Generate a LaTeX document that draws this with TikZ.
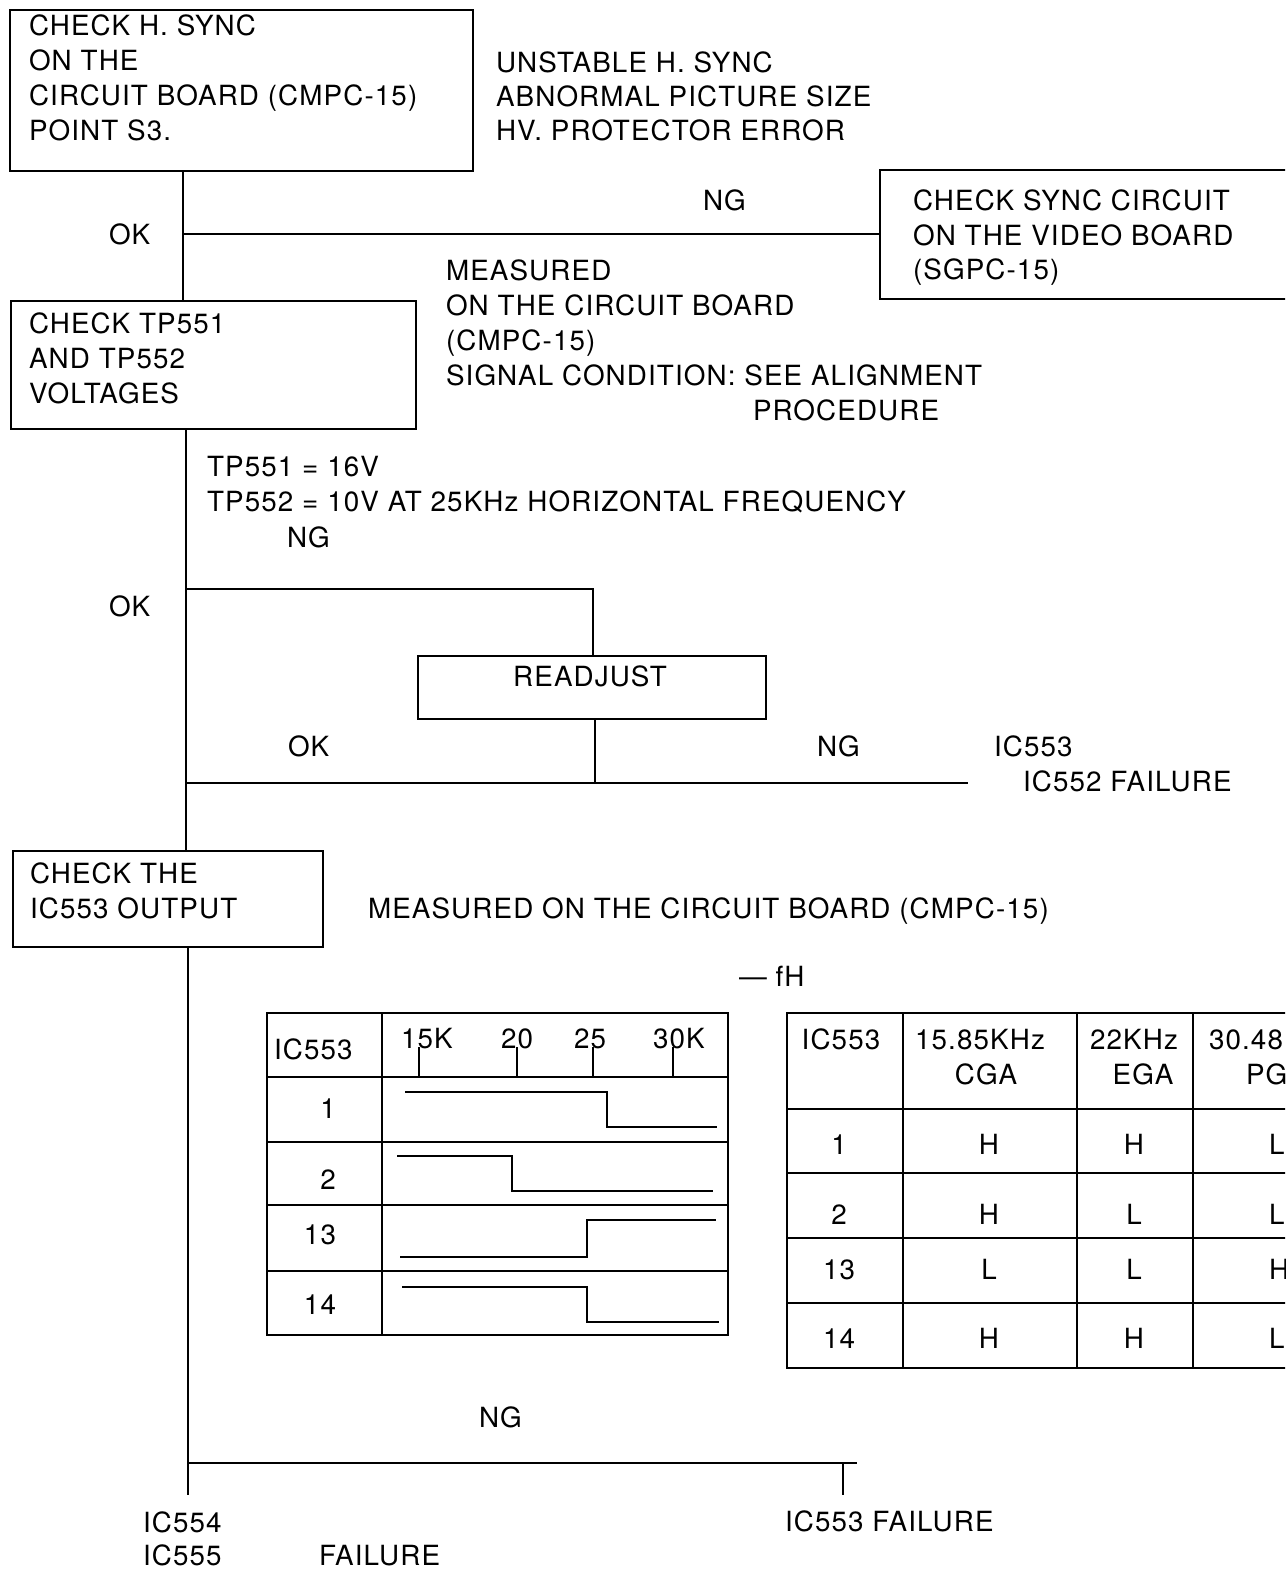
\documentclass[tikz,border=0pt]{standalone}
\usepackage{fontspec}
\setmainfont[LetterSpace=4]{TeX Gyre Heros}
\begin{document}
\begin{tikzpicture}[x=0.5pt,y=-0.5pt,line width=1pt,
  box/.style={draw,line width=1pt,anchor=north west,inner sep=0pt},
  txt/.style={anchor=base west,inner sep=0pt,font=\fontsize{13.9}{17.5}\selectfont},
  ctxt/.style={anchor=base,inner sep=0pt,font=\fontsize{13.9}{17.5}\selectfont},
  wire/.style={line width=1pt},
  wave/.style={line width=1pt}]
\useasboundingbox (0,0) rectangle (1285,1572);
\clip (0,0) rectangle (1285,1572);
% boxes
\node[box,minimum width=231.5pt,minimum height=80.5pt] (b1) at (9,9) {};
\node[box,minimum width=205pt,minimum height=64.5pt] (b3) at (879,169) {};
\node[box,minimum width=202.5pt,minimum height=64pt] (b2) at (10,300) {};
\node[box,minimum width=174pt,minimum height=31.5pt] (ra) at (417,655) {};
\node[box,minimum width=155pt,minimum height=48pt] (b4) at (12,850) {};
% box texts
\node[txt] (t1a) at (28,36) {CHECK H. SYNC};
\node[txt] (t1b) at (28,71) {ON THE};
\node[txt] (t1c) at (28,106) {CIRCUIT BOARD (CMPC-15)};
\node[txt] (t1d) at (28,141) {POINT S3.};
\node[txt] (s1) at (495,73) {UNSTABLE H. SYNC};
\node[txt] (s2) at (495,107) {ABNORMAL PICTURE SIZE};
\node[txt] (s3) at (495,141) {HV. PROTECTOR ERROR};
\node[txt] (t3a) at (912,211) {CHECK SYNC CIRCUIT};
\node[txt] (t3b) at (912,246) {ON THE VIDEO BOARD};
\node[txt] (t3c) at (912,280) {(SGPC-15)};
\node[txt] (ok1) at (108,245) {OK};
\node[txt] (ng1) at (702,211) {NG};
\node[txt] (m1) at (445,281) {MEASURED};
\node[txt] (m2) at (445,316) {ON THE CIRCUIT BOARD};
\node[txt] (m3) at (445,351) {(CMPC-15)};
\node[txt] (m4) at (445,386) {SIGNAL CONDITION: SEE ALIGNMENT};
\node[txt] (m5) at (752,421) {PROCEDURE};
\node[txt] (t2a) at (28,334) {CHECK TP551};
\node[txt] (t2b) at (28,369) {AND TP552};
\node[txt] (t2c) at (28,404) {VOLTAGES};
\node[txt] (v1) at (206,476) {TP551 = 16V};
\node[txt] (v2) at (206,511) {TP552 = 10V AT 25KHz HORIZONTAL FREQUENCY};
\node[txt] (ng2) at (286,547) {NG};
\node[txt] (ok2) at (108,616) {OK};
\node[ctxt] (rat) at (590,686) {READJUST};
\node[txt] (ok3) at (287,756) {OK};
\node[txt] (ng3) at (816,756) {NG};
\node[txt] (f1) at (993,756) {IC553};
\node[txt] (f2) at (1022,791) {IC552 FAILURE};
\node[txt] (t4a) at (29,883) {CHECK THE};
\node[txt] (t4b) at (29,918) {IC553 OUTPUT};
\node[txt] (m6) at (367,918) {MEASURED ON THE CIRCUIT BOARD (CMPC-15)};
\node[txt] (fh) at (738,986) {— fH};
\node[txt] (ng4) at (478,1427) {NG};
\node[txt] (f3) at (142,1532) {IC554};
\node[txt] (f4) at (142,1565) {IC555};
\node[txt] (f5) at (318,1565) {FAILURE};
\node[txt] (f6) at (784,1531) {IC553 FAILURE};
% connectors
\coordinate (j1) at (183,234);
\draw[wire] (b1.south -| j1) -- (j1 |- b2.north);
\draw[wire] (j1) -- (b3.west |- j1);
\coordinate (j2) at (186,589);
\coordinate (j3) at (186,783);
\coordinate (e1) at (968,783);
\draw[wire] (b2.south -| j2) -- (j2 |- b4.north);
\draw[wire] (j2) -- (593,589) -- (593,655);
\draw[wire] (595,718) -- (595,783);
\draw[wire] (j3) -- (e1);
\coordinate (j4) at (188,1463);
\coordinate (e2) at (857,1463);
\coordinate (e3) at (188,1495);
\coordinate (e4) at (843,1495);
\draw[wire] (b4.south -| j4) -- (e3);
\draw[wire] (j4) -- (e2);
\draw[wire] (843,1463) -- (e4);
% left table
\draw (267,1013) rectangle (728,1335);
\draw (382,1013) -- (382,1335);
\foreach \yy in {1077,1142,1205,1271} \draw (267,\yy) -- (728,\yy);
\foreach \xx in {419,517,593,673} \draw (\xx,1047) -- (\xx,1077);
\node[txt] at (273,1059) {IC553};
\node[txt] at (400,1048) {15K};
\node[txt] at (500,1048) {20};
\node[txt] at (573,1048) {25};
\node[txt] at (652,1048) {30K};
\node[ctxt] at (328,1118) {1};
\node[ctxt] at (328,1189) {2};
\node[ctxt] at (320,1244) {13};
\node[ctxt] at (320,1314) {14};
\draw[wave] (405,1092) -- (607,1092) -- (607,1127) -- (717,1127);
\draw[wave] (397,1156) -- (512,1156) -- (512,1191) -- (713,1191);
\draw[wave] (400,1257) -- (587,1257) -- (587,1220) -- (716,1220);
\draw[wave] (402,1287) -- (587,1287) -- (587,1322) -- (719,1322);
% right table
\draw (787,1013) rectangle (1400,1368);
\foreach \xx in {903,1077,1193} \draw (\xx,1013) -- (\xx,1368);
\foreach \yy in {1109,1173,1238,1303} \draw (787,\yy) -- (1400,\yy);
\node[ctxt] at (841,1049) {IC553};
\node[ctxt] at (980,1049) {15.85KHz};
\node[ctxt] at (986,1084) {CGA};
\node[ctxt] at (1134,1049) {22KHz};
\node[ctxt] at (1143,1084) {EGA};
\node[txt] at (1208,1049) {30.48KHz};
\node[txt] at (1245,1084) {PGA};
\foreach \yy/\lab/\a/\b/\c in {1154/1/H/H/L,1224/2/H/L/L,1279/13/L/L/H,1348/14/H/H/L}{
  \node[ctxt] at (839,\yy) {\lab};
  \node[ctxt] at (989,\yy) {\a};
  \node[ctxt] at (1134,\yy) {\b};
  \node[txt] at (1268,\yy) {\c};
}
\end{tikzpicture}
\end{document}
